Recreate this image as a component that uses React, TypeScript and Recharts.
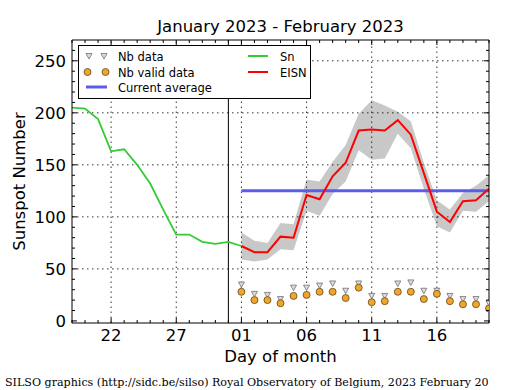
import React from "react";
import { ComposedChart, Line, Area, Scatter, XAxis, YAxis, ReferenceLine } from "recharts";

// Jan 19 -> Feb 20 2023
const dayOfMonth = [19, 20, 21, 22, 23, 24, 25, 26, 27, 28, 29, 30, 31, 1, 2, 3, 4, 5, 6, 7, 8, 9, 10, 11, 12, 13, 14, 15, 16, 17, 18, 19, 20];
const labeledDays = ["22", "27", "01", "06", "11", "16"];
const yTicks = [0, 10, 20, 30, 40, 50, 60, 70, 80, 90, 100, 110, 120, 130, 140, 150, 160, 170, 180, 190, 200, 210, 220, 230, 240, 250, 260];
const yLabels = [0, 50, 100, 150, 200, 250];

// Sn runs from Jan 19 up to Feb 1
const snValues = [205, 204, 194, 163, 165, 150, 132, 107, 83, 83, 76, 74, 76, 72];
// everything below runs from Feb 1 to Feb 20
const eisnValues = [72, 66, 66, 81, 80, 121, 117, 139, 152, 183, 184, 183, 193, 179, 142, 105, 95, 115, 116, 127];
const eisnLow = [59, 57, 59, 69, 68, 106, 101, 122, 134, 164, 155, 156, 180, 166, 127, 91, 85, 106, 105, 115];
const eisnHigh = [85, 77, 75, 94, 93, 136, 134, 153, 169, 199, 212, 207, 201, 192, 152, 116, 107, 123, 130, 140];
const nbData = [35, 26, 25, 21, 32, 32, 34, 36, 29, 36, 24, 24, 36, 37, 29, 29, 24, 21, 21, 17];
const nbValid = [28, 20, 20, 17, 24, 25, 28, 28, 22, 32, 18, 19, 28, 28, 21, 26, 19, 16, 16, 12];
const currentAverage = 125;

const firstFeb = dayOfMonth.indexOf(1);
const lastJan = firstFeb - 1;

const rows = dayOfMonth.map((day, i) => {
  const j = i - firstFeb;
  const feb = j >= 0;
  return {
    x: i,
    day,
    sn: i < snValues.length ? snValues[i] : undefined,
    eisn: feb ? eisnValues[j] : undefined,
    band: feb ? [eisnLow[j], eisnHigh[j]] : undefined,
    avg: feb ? currentAverage : undefined,
    nbData: feb ? nbData[j] : undefined,
    nbValid: feb ? nbValid[j] : undefined,
  };
});
const markerRows = rows.filter((r) => r.nbData !== undefined);
const xTicks = rows.map((r) => r.x);
const gridX = xTicks.filter((i) => labeledDays.includes(dayLabel(i)));
const gridY = yLabels.filter((v) => v > 0);

const FONT = "'DejaVu Sans', sans-serif";
const GAP = 7;

function dayLabel(i: number) {
  return String(dayOfMonth[i]).padStart(2, "0");
}

const BottomTick = (p: any) => {
  const { x, y, payload } = p;
  const label = dayLabel(payload.value);
  const major = labeledDays.includes(label);
  const ay = y - GAP;
  return (
    <g>
      <line x1={x} x2={x} y1={ay} y2={ay - (major ? 5 : 3)} stroke="#000" />
      {major && (
        <text x={x} y={ay + 17.5} textAnchor="middle" fontSize={16.5} fontFamily={FONT} fill="#000">
          {label}
        </text>
      )}
    </g>
  );
};

const TopTick = (p: any) => {
  const { x, y, payload } = p;
  const major = labeledDays.includes(dayLabel(payload.value));
  const ay = y + GAP;
  return <line x1={x} x2={x} y1={ay} y2={ay + (major ? 5 : 3)} stroke="#000" />;
};

const LeftTick = (p: any) => {
  const { x, y, payload } = p;
  const major = yLabels.includes(payload.value);
  const ax = x + GAP;
  return (
    <g>
      <line x1={ax} x2={ax + (major ? 5 : 3)} y1={y} y2={y} stroke="#000" />
      {major && (
        <text x={ax - 6} y={y + 6} textAnchor="end" fontSize={16.5} fontFamily={FONT} fill="#000">
          {payload.value}
        </text>
      )}
    </g>
  );
};

const RightTick = (p: any) => {
  const { x, y, payload } = p;
  const major = yLabels.includes(payload.value);
  const ax = x - GAP;
  return <line x1={ax} x2={ax - (major ? 5 : 3)} y1={y} y2={y} stroke="#000" />;
};

const DownTriangle = (p: any) => {
  const { cx, cy } = p;
  if (cx == null || cy == null) return <g />;
  return (
    <polygon
      points={`${cx - 3},${cy - 2.5} ${cx + 3},${cy - 2.5} ${cx},${cy + 3}`}
      fill="#dcdcdc"
      stroke="#707070"
      strokeWidth={0.8}
    />
  );
};

const OrangeDot = (p: any) => {
  const { cx, cy } = p;
  if (cx == null || cy == null) return <g />;
  return <circle cx={cx} cy={cy} r={3.5} fill="#f2a52a" stroke="#5a4a20" strokeWidth={0.8} />;
};

function LegendBox() {
  const t = { fontSize: 11.5, fontFamily: FONT, fill: "#000" } as const;
  return (
    <div
      style={{
        position: "absolute",
        left: 78,
        top: 45,
        width: 231,
        height: 52,
        border: "1px solid #000",
        background: "#fff",
      }}
    >
      <svg width={231} height={52}>
        <DownTriangle cx={10} cy={10} />
        <DownTriangle cx={25} cy={10} />
        <text x={39} y={15} {...t}>Nb data</text>
        <OrangeDot cx={8.5} cy={26} />
        <OrangeDot cx={26.5} cy={26} />
        <text x={39} y={31} {...t}>Nb valid data</text>
        <line x1={7} x2={28} y1={41} y2={41} stroke="#5b5bf0" strokeWidth={3} />
        <text x={39} y={46} {...t}>Current average</text>
        <line x1={169} x2={189} y1={10} y2={10} stroke="#33cc33" strokeWidth={2} />
        <text x={201} y={15} {...t}>Sn</text>
        <line x1={169} x2={189} y1={26} y2={26} stroke="#ff0000" strokeWidth={2} />
        <text x={201} y={31} {...t}>EISN</text>
      </svg>
    </div>
  );
}

export default function App() {
  return (
    <div style={{ position: "absolute", left: 0, top: 0, width: 515, height: 390, background: "#fff" }}>
      <ComposedChart width={515} height={390} data={rows} margin={{ top: 30, right: 16, bottom: 37, left: 32 }}>
        <XAxis
          dataKey="x"
          type="number"
          domain={[0, 32]}
          allowDataOverflow
          ticks={xTicks}
          interval={0}
          height={30}
          tickSize={0}
          tickMargin={GAP}
          tickLine={false}
          axisLine={{ stroke: "#000" }}
          tick={BottomTick}
        />
        <XAxis
          xAxisId="top"
          orientation="top"
          dataKey="x"
          type="number"
          domain={[0, 32]}
          allowDataOverflow
          ticks={xTicks}
          interval={0}
          height={10}
          tickSize={0}
          tickMargin={GAP}
          tickLine={false}
          axisLine={{ stroke: "#000" }}
          tick={TopTick}
        />
        <YAxis
          type="number"
          domain={[-2, 270]}
          allowDataOverflow
          ticks={yTicks}
          interval={0}
          width={40}
          tickSize={0}
          tickMargin={GAP}
          tickLine={false}
          axisLine={{ stroke: "#000" }}
          tick={LeftTick}
        />
        <YAxis
          yAxisId="right"
          orientation="right"
          type="number"
          domain={[-2, 270]}
          allowDataOverflow
          ticks={yTicks}
          interval={0}
          width={10}
          tickSize={0}
          tickMargin={GAP}
          tickLine={false}
          axisLine={{ stroke: "#000" }}
          tick={RightTick}
        />
        <Area dataKey="band" stroke="none" fill="#c8c8c8" fillOpacity={1} isAnimationActive={false} />
        {gridY.map((v) => (
          <ReferenceLine key={"gy" + v} y={v} stroke="#000" strokeWidth={0.8} strokeDasharray="1.5 3.5" />
        ))}
        {gridX.map((v) => (
          <ReferenceLine key={"gx" + v} x={v} stroke="#000" strokeWidth={0.8} strokeDasharray="1.5 3.5" />
        ))}
        <ReferenceLine x={lastJan} stroke="#000" strokeWidth={1} />
        <Line dataKey="sn" stroke="#33cc33" strokeWidth={1.8} dot={false} activeDot={false} isAnimationActive={false} />
        <Line dataKey="avg" stroke="#5b5bf0" strokeWidth={3} dot={false} activeDot={false} isAnimationActive={false} />
        <Line dataKey="eisn" stroke="#ff0000" strokeWidth={2} dot={false} activeDot={false} isAnimationActive={false} />
        <Scatter data={markerRows} dataKey="nbData" shape={DownTriangle} isAnimationActive={false} />
        <Scatter data={markerRows} dataKey="nbValid" shape={OrangeDot} isAnimationActive={false} />
      </ComposedChart>
      <svg width={515} height={390} style={{ position: "absolute", left: 0, top: 0, pointerEvents: "none" }}>
        <text x={280.5} y={32} textAnchor="middle" fontSize={16.5} fontFamily={FONT} fill="#000">
          January 2023 - February 2023
        </text>
        <text x={280.5} y={362} textAnchor="middle" fontSize={16.5} fontFamily={FONT} fill="#000">
          Day of month
        </text>
        <text x={25} y={181.5} textAnchor="middle" fontSize={16.5} fontFamily={FONT} fill="#000" transform="rotate(-90 25 181.5)">
          Sunspot Number
        </text>
        <text x={5} y={385.5} fontSize={11.1} fontFamily="'DejaVu Serif', serif" fill="#000">
          SILSO graphics (http://sidc.be/silso) Royal Observatory of Belgium, 2023 February 20
        </text>
      </svg>
      <LegendBox />
    </div>
  );
}
